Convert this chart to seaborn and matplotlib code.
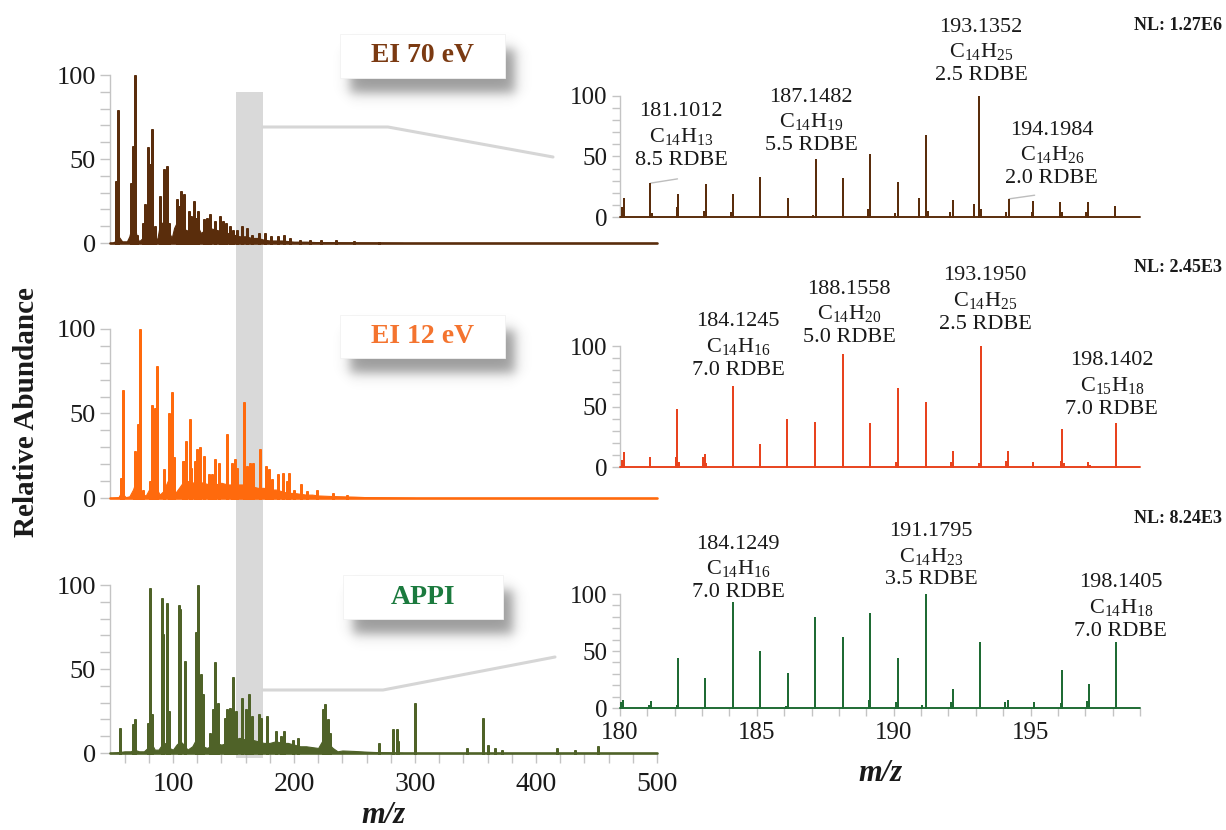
import numpy as np
import pandas as pd
import matplotlib
matplotlib.use("Agg")
import matplotlib.pyplot as plt
from matplotlib.patches import Rectangle
from matplotlib.lines import Line2D
import seaborn as sns

# ---------------- full-range spectra (m/z, relative abundance) ----------------
ei70_mz = [53, 55, 65, 67, 69, 70, 75, 77, 79, 81, 83, 85, 89, 91, 93, 95, 97, 103, 105, 107,
           109, 111, 113, 115, 117, 119, 121, 126, 128, 131, 135, 139, 141, 144, 147, 150, 153, 157, 161, 165,
           171, 176, 181, 187, 192, 197, 205, 213, 222, 235, 250, 270]
ei70_int = [37, 79, 36, 58, 100, 5, 12, 23, 57, 47, 68, 10, 28, 12, 44, 46, 12, 26, 22, 31,
            29, 8, 19, 16, 25, 15, 19, 14, 15, 17, 13, 16, 13, 12, 10, 8, 8, 10, 9, 5,
            6, 6, 4, 4, 5, 3, 2, 2, 2, 1.5, 1, 0.8]
ei70_bg_mz = [50, 52, 54, 56, 58, 62, 64, 66, 68, 70, 72, 75, 77, 79, 81, 83, 85, 87, 89, 91,
              93, 95, 97, 99, 101, 103, 105, 107, 109, 111, 113, 115, 117, 119, 121, 123, 125, 130, 135, 140,
              145, 150, 155, 160, 165, 170, 175, 180, 190, 200, 210, 220, 235, 250, 270, 290]
ei70_bg_int = [0, 1, 5, 3, 1, 1, 4, 10, 12, 4, 1, 3, 10, 15, 17, 12, 4, 2, 10, 12,
               13, 13, 6, 3, 9, 12, 13, 12, 11, 6, 8, 11, 12, 11, 9, 6, 7, 9, 8, 7,
               6, 5, 4, 4, 3, 3, 2, 1.5, 1.5, 0.8, 0.8, 0.5, 0.4, 0.3, 0.2, 0]

ei12_mz = [57, 59, 68, 69, 71, 73, 75, 81, 83, 85, 87, 93, 97, 99, 101, 108, 110, 111, 114, 115,
           118, 120, 122, 126, 130, 132, 135, 138, 145, 149, 151, 153, 159, 161, 164, 166, 172, 177, 179, 182,
           187, 191, 194, 196, 200, 206, 211, 219, 232, 244]
ei12_int = [12, 64, 3, 28, 44, 100, 5, 10, 55, 53, 78, 17, 50, 63, 24, 22, 22, 34, 47, 18,
            22, 29, 30, 25, 14, 14, 23, 21, 38, 21, 23, 18, 57, 19, 21, 21, 29, 19, 17, 11,
            14, 15, 10, 15, 5, 8, 4, 5, 3, 2]
ei12_bg_mz = [50, 55, 57, 59, 61, 64, 67, 69, 71, 73, 75, 78, 81, 83, 85, 87, 89, 92, 95, 97,
              100, 102, 105, 108, 111, 114, 117, 120, 125, 130, 135, 140, 145, 150, 155, 160, 165, 170, 175, 180,
              185, 190, 195, 200, 205, 210, 215, 220, 230, 240, 250, 260, 280, 300]
ei12_bg_int = [0, 0.5, 3, 2, 0.5, 1, 5, 9, 8, 4, 1, 2, 6, 10, 9, 5, 2, 4, 9, 12,
               10, 3, 6, 9, 10, 10, 9, 10, 9, 8, 8, 9, 8, 8, 8, 8, 7, 6, 6, 5,
               5, 4, 3, 3, 2.5, 2, 2, 1.5, 1.2, 1, 0.8, 0.5, 0.3, 0]

appi_mz = [56, 67, 69, 79, 81, 83, 91, 92, 95, 97, 105, 106, 110, 119, 121, 123, 125, 131, 133, 135,
           137, 143, 145, 147, 150, 152, 157, 160, 163, 165, 171, 173, 178, 185, 189, 192, 199, 203, 224, 226,
           228, 230, 270, 282, 285, 286, 300, 343, 356, 360, 366, 372, 417, 432, 451]
appi_int = [15, 17, 20, 18, 98, 23, 92, 71, 89, 25, 88, 86, 55, 72, 100, 47, 35, 12, 26, 54,
            30, 21, 26, 27, 45, 25, 33, 26, 35, 22, 23, 21, 22, 13, 10, 13, 8, 9, 26, 29,
            20, 12, 6, 14, 14, 7, 30, 3, 21, 5, 3, 2, 3, 2, 4]
appi_bg_mz = [50, 55, 60, 65, 68, 72, 76, 79, 82, 85, 88, 91, 94, 97, 100, 103, 106, 109, 112, 116,
              119, 122, 125, 128, 131, 135, 140, 145, 150, 155, 160, 165, 170, 175, 180, 185, 190, 195, 200, 205,
              210, 215, 220, 224, 228, 232, 236, 240, 250, 260, 270, 280, 290]
appi_bg_int = [0, 0.5, 1, 1, 2, 1, 1, 3, 6, 2, 2, 5, 6, 3, 2, 5, 7, 5, 2, 4,
               8, 6, 4, 3, 4, 6, 5, 6, 8, 9, 8, 8, 7, 6, 6, 7, 6, 6, 5, 4,
               4, 3.5, 3, 8, 6, 3, 1, 1.5, 1.2, 0.8, 0.5, 0.3, 0]

# ---------------- zoomed 180-199 spectra ----------------
z70_mz = [180.07, 180.15, 181.1012, 181.17, 182.08, 182.13, 183.08, 183.13, 184.06, 184.12,
          185.13, 186.13, 187.05, 187.1482, 188.15, 189.06, 189.15, 190.06, 190.17, 190.94,
          191.17, 191.25, 192.05, 192.18, 192.95, 193.1352, 193.2, 194.1, 194.1984, 195.05,
          195.1, 196.08, 196.15, 197.04, 197.1, 198.1]
z70_int = [8, 16, 28, 3, 8, 19, 5, 27, 4, 19,
           33, 16, 2, 48, 32, 7, 52, 3, 29, 16,
           68, 5, 4, 14, 11, 100, 7, 4, 15, 4,
           13, 12, 4, 4, 12, 9]

z12_mz = [180.07, 180.15, 181.1, 182.05, 182.1, 182.16, 183.05, 183.1, 183.16, 184.1245,
          185.13, 186.12, 187.12, 188.1558, 189.15, 190.1, 190.16, 191.17, 192.1, 192.17,
          193.1, 193.195, 194.1, 194.17, 195.1, 196.1, 196.16, 196.22, 197.1, 197.17, 198.1402]
z12_int = [6, 12, 8, 8, 48, 4, 8, 11, 3, 67,
           19, 40, 37, 93, 36, 4, 65, 54, 4, 13,
           3, 100, 5, 13, 4, 5, 31, 3, 4, 2, 36]

zappi_mz = [180.05, 180.12, 181.05, 181.12, 182.08, 182.13, 183.12, 184.1249, 185.13, 186.08,
            186.14, 187.13, 188.14, 189.08, 189.14, 190.08, 190.14, 191.05, 191.1795, 192.1,
            192.15, 193.14, 194.05, 194.17, 195.13, 196.1, 196.16, 197.07, 197.14, 198.1405]
zappi_int = [5, 7, 3, 6, 3, 44, 26, 93, 50, 2,
             31, 80, 62, 7, 83, 5, 44, 3, 100, 5,
             17, 58, 5, 7, 5, 4, 33, 6, 21, 58]

# annotated ions: m/z, formula (C, H), RDBE
ann70 = [(181.1012, 14, 13, 8.5), (187.1482, 14, 19, 5.5), (193.1352, 14, 25, 2.5), (194.1984, 14, 26, 2.0)]
ann12 = [(184.1245, 14, 16, 7.0), (188.1558, 14, 20, 5.0), (193.1950, 14, 25, 2.5), (198.1402, 15, 18, 7.0)]
annappi = [(184.1249, 14, 16, 7.0), (191.1795, 14, 23, 3.5), (198.1405, 14, 18, 7.0)]

panel_names = ["EI 70 eV", "EI 12 eV", "APPI"]
norm_levels = ["NL: 1.27E6", "NL: 2.45E3", "NL: 8.24E3"]

# ---------------- style ----------------
sns.set_style("white")
plt.rcParams["font.family"] = ["Liberation Serif", "DejaVu Serif"]
plt.rcParams["mathtext.fontset"] = "custom"
plt.rcParams["mathtext.rm"] = "Liberation Serif"
plt.rcParams["mathtext.it"] = "Liberation Serif:italic"
plt.rcParams["mathtext.bf"] = "Liberation Serif:bold"

W, H = 1226, 830
fig = plt.figure(figsize=(W / 100, H / 100), dpi=100)
fig.patch.set_facecolor("white")


def fx(px):
    return px / W


def fy(py):
    return 1 - py / H


def rect(x0, x1, y_top, y_bot):
    return [fx(x0), fy(y_bot), (x1 - x0) / W, (y_bot - y_top) / H]


AXIS_GREY = "#C4C4C4"
TEXT_COL = "#1a1a1a"


def draw_spectrum(ax, mz, inten, lo, hi, color, lw, bg_mz=None, bg_int=None):
    xs, ys = [lo], [0.0]
    for m, v in zip(mz, inten):
        xs += [m, m, m]
        ys += [0.0, v, 0.0]
    xs.append(hi)
    ys.append(0.0)
    df = pd.DataFrame({"mz": xs, "abundance": ys})
    if bg_mz is not None:
        ax.fill_between(bg_mz, 0, bg_int, color=color, lw=0.8, zorder=2)
    sns.lineplot(data=df, x="mz", y="abundance", sort=False, estimator=None,
                 color=color, linewidth=lw, ax=ax, zorder=3)
    for ln in ax.lines:
        ln.set_clip_on(False)
        ln.set_solid_joinstyle("miter")
    ax.set_xlabel("")
    ax.set_ylabel("")


def style_axes(ax, xlim, tick_fs, tick_len):
    ax.set_facecolor("none")
    ax.set_xlim(*xlim)
    ax.set_ylim(0, 100)
    for s in ["top", "right", "bottom"]:
        ax.spines[s].set_visible(False)
    ax.spines["left"].set_color(AXIS_GREY)
    ax.spines["left"].set_linewidth(1.0)
    ax.spines["left"].set_bounds(0, 100)
    ax.set_yticks([0, 50, 100])
    ax.set_yticks(np.arange(0, 101, 10), minor=True)
    ax.tick_params(axis="y", which="both", left=True, direction="out", length=tick_len,
                   width=1.0, color=AXIS_GREY, labelsize=tick_fs, labelcolor=TEXT_COL, pad=3)
    ax.set_xticks([])
    ax.set_xticks([], minor=True)


# ---------------- left panels ----------------
left_specs = [
    (ei70_mz, ei70_int, ei70_bg_mz, ei70_bg_int, "#5A2D0C", (75, 243)),
    (ei12_mz, ei12_int, ei12_bg_mz, ei12_bg_int, "#FF6A0D", (329, 498)),
    (appi_mz, appi_int, appi_bg_mz, appi_bg_int, "#4F6228", (585, 753)),
]
left_axes = []
for mz, inten, bmz, bint, col, (yt, yb) in left_specs:
    ax = fig.add_axes(rect(110, 657, yt, yb))
    draw_spectrum(ax, mz, inten, 48, 500, col, 1.9, bmz, bint)
    style_axes(ax, (48, 500), 19, 7)
    left_axes.append(ax)

axb = left_axes[-1]
axb.set_xticks([100, 200, 300, 400, 500])
axb.set_xticks(np.arange(60, 501, 20), minor=True)
axb.tick_params(axis="x", which="both", bottom=True, direction="out", length=7, width=1.0,
                color=AXIS_GREY, labelsize=20, labelcolor=TEXT_COL, pad=7)

# ---------------- right (zoomed) panels ----------------
right_specs = [
    (z70_mz, z70_int, ann70, "#5A2D0C", (96, 217)),
    (z12_mz, z12_int, ann12, "#E8431E", (346, 467)),
    (zappi_mz, zappi_int, annappi, "#1F6B34", (594, 708)),
]
label_pos = [
    [(182.23, 39), (186.98, 51), (193.19, 109), (195.78, 24)],
    [(184.31, 72), (188.37, 99), (193.34, 110), (197.97, 40)],
    [(184.31, 93), (191.36, 104), (198.30, 59)],
]
right_axes = []
for (mz, inten, ann, col, (yt, yb)), pos in zip(right_specs, label_pos):
    ax = fig.add_axes(rect(620, 1140, yt, yb))
    draw_spectrum(ax, mz, inten, 180, 199, col, 1.4)
    style_axes(ax, (180, 199), 18, 6)
    for (m, nc, nh, rdbe), (tx, ty) in zip(ann, pos):
        label = f"{m:.4f}\n" + r"$\mathregular{C_{%d}H_{%d}}$" % (nc, nh) + f"\n{rdbe:.1f} RDBE"
        ax.text(tx, ty, label, ha="center", va="bottom", fontsize=16, color=TEXT_COL,
                linespacing=1.28, multialignment="center", clip_on=False)
    right_axes.append(ax)

# leader lines in the EI 70 eV zoom
ax0 = right_axes[0]
ax0.plot([181.12, 182.1], [28, 31.5], color="#BDBDBD", lw=1.0, clip_on=False)
ax0.plot([194.22, 195.15], [15, 18], color="#BDBDBD", lw=1.0, clip_on=False)

axr = right_axes[-1]
axr.set_xticks([180, 185, 190, 195])
axr.set_xticks(np.arange(180, 200, 1), minor=True)
axr.tick_params(axis="x", which="both", bottom=True, direction="out", length=6, width=1.0,
                color=AXIS_GREY, labelsize=18, labelcolor=TEXT_COL, pad=4)

# ---------------- highlight band and connectors ----------------
fig.add_artist(Rectangle((fx(236), fy(758)), 27 / W, (758 - 92) / H, transform=fig.transFigure,
                         facecolor="#D9D9D9", edgecolor="none", zorder=-2))
for pts in ([(263, 127), (388, 127), (553, 157)], [(263, 690), (383, 690), (555, 657)]):
    fig.add_artist(Line2D([fx(p[0]) for p in pts], [fy(p[1]) for p in pts], transform=fig.transFigure,
                          color="#D6D6D6", lw=2.2, zorder=-1))


# ---------------- title boxes with soft drop shadow ----------------
def soft_shadow(x0, y0, x1, y1, dx=10, dy=15, soft=7.0, strength=0.52):
    sx0, sy0, sx1, sy1 = x0 + dx, y0 + dy, x1 + dx, y1 + dy
    pad = 28
    X0, Y0 = int(sx0 - pad), int(sy0 - pad)
    w, h = int(sx1 - sx0 + 2 * pad), int(sy1 - sy0 + 2 * pad)
    xs = np.arange(w) + X0 + 0.5
    ys = np.arange(h) + Y0 + 0.5
    ax_prof = 0.5 * (np.tanh((xs - sx0) / soft) - np.tanh((xs - sx1) / soft))
    ay_prof = 0.5 * (np.tanh((ys - sy0) / soft) - np.tanh((ys - sy1) / soft))
    img = np.zeros((h, w, 4))
    img[..., :3] = 0.25
    img[..., 3] = strength * np.outer(ay_prof, ax_prof)
    fig.figimage(img, xo=X0, yo=H - (Y0 + h), origin="upper", zorder=4)


boxes = [((340, 34, 505, 78), "#7B3A12"), ((340, 315, 505, 358), "#F4742F"), ((343, 575, 503, 619), "#1B7A3E")]
for ((x0, y0, x1, y1), tcol), name in zip(boxes, panel_names):
    soft_shadow(x0, y0, x1, y1)
    fig.add_artist(Rectangle((fx(x0), fy(y1)), (x1 - x0) / W, (y1 - y0) / H, transform=fig.transFigure,
                             facecolor="white", edgecolor="#F2F2F2", lw=0.6, zorder=5))
    fig.text(fx((x0 + x1) / 2), fy((y0 + y1) / 2), name, ha="center", va="center",
             fontsize=20, fontweight="bold", color=tcol, zorder=6)

# ---------------- normalisation levels and axis titles ----------------
for nl, y in zip(norm_levels, (25, 268, 518)):
    fig.text(fx(1222), fy(y), nl, ha="right", va="center", fontsize=13, fontweight="bold", color=TEXT_COL)

fig.text(fx(27), fy(412), "Relative Abundance", rotation=90, ha="center", va="center",
         fontsize=21, fontweight="bold", color=TEXT_COL)
fig.text(fx(383), fy(815), "m/z", ha="center", va="center", fontsize=22,
         fontweight="bold", fontstyle="italic", color=TEXT_COL)
fig.text(fx(880), fy(773), "m/z", ha="center", va="center", fontsize=22,
         fontweight="bold", fontstyle="italic", color=TEXT_COL)

fig.savefig("out.png", dpi=100, facecolor="white")
